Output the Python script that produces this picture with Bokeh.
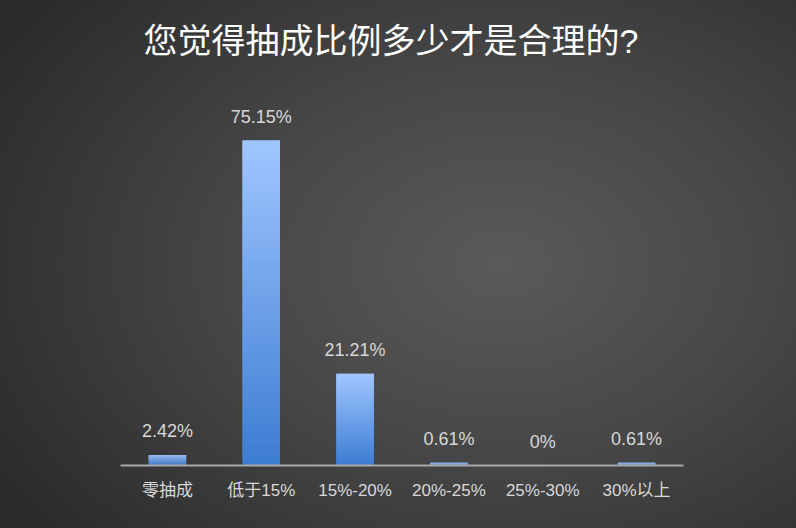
from bokeh.plotting import figure
from bokeh.models import ColumnDataSource, Range1d, FactorRange, LabelSet
from bokeh.core.properties import value
from bokeh.embed import file_html
from bokeh.resources import INLINE
try:
    from bokeh.models import GlobalInlineStyleSheet
except Exception:
    GlobalInlineStyleSheet = None

# ---- data ----
categories = ["零抽成", "低于15%", "15%-20%", "20%-25%", "25%-30%", "30%以上"]
values = [2.42, 75.15, 21.21, 0.61, 0, 0.61]
value_labels = [f"{v:g}%" for v in values]
title_text = "您觉得抽成比例多少才是合理的?"

# ---- style ----
BAR_TOP = (160, 198, 255)
BAR_BOTTOM = (60, 124, 210)
N_SLICES = 60
LABEL_FONT = "Liberation Sans, Noto Sans CJK SC"

p = figure(width=780, height=512, x_range=FactorRange(*categories, range_padding=0.0),
           y_range=Range1d(0, 89.5), output_backend="svg", toolbar_location=None,
           min_border_left=120, min_border_right=97, min_border_top=78, min_border_bottom=47)
p.background_fill_alpha = 0
p.border_fill_alpha = 0
p.outline_line_color = None
p.grid.visible = False

if GlobalInlineStyleSheet is not None:
    p.stylesheets = [GlobalInlineStyleSheet(css="""
html { min-height: 100%; background: radial-gradient(ellipse 75% 80% at 63% 50%, #5a5a5a 0%, #474747 45%, #2a2a2a 100%) fixed; }
body { background: transparent; }
""")]

# gradient bars built from overlapping slices (drawn bottom to top)
xs, bottoms, tops, colors = [], [], [], []
for c, v in zip(categories, values):
    if v <= 0:
        continue
    for k in range(N_SLICES):
        t0 = k / N_SLICES
        t1 = min(1.0, (k + 2) / N_SLICES)
        tm = (k + 0.5) / N_SLICES
        rgb = tuple(int(round(BAR_BOTTOM[j] + (BAR_TOP[j] - BAR_BOTTOM[j]) * tm)) for j in range(3))
        xs.append(c)
        bottoms.append(v * t0)
        tops.append(v * t1)
        colors.append("#%02x%02x%02x" % rgb)
bars = ColumnDataSource(dict(x=xs, bottom=bottoms, top=tops, color=colors))
p.vbar(x="x", bottom="bottom", top="top", width=0.4, source=bars, fill_color="color", line_color=None)

lab = ColumnDataSource(dict(x=categories, y=values, text=value_labels))
p.add_layout(LabelSet(x="x", y="y", text="text", source=lab, text_align="center",
                      text_baseline="bottom", y_offset=14, text_color="#d8d8d8",
                      text_font=value(LABEL_FONT), text_font_size="18px"))

# axes
p.yaxis.visible = False
xa = p.xaxis[0]
xa.axis_line_color = "#a8a8a8"
xa.axis_line_width = 2
xa.major_tick_line_color = None
xa.minor_tick_line_color = None
xa.major_tick_out = 0
xa.major_tick_in = 0
xa.major_label_text_color = "#d8d8d8"
xa.major_label_text_font = LABEL_FONT
xa.major_label_text_font_size = "17px"
xa.major_label_standoff = 15

p.title.text = title_text
p.title.align = "left"
p.title.offset = 23
p.title.text_color = "#ffffff"
p.title.text_font = "Liberation Sans, Noto Sans CJK SC"
p.title.text_font_style = "normal"
p.title.text_font_size = "34px"
p.title.standoff = 38

open("out.html", "w").write(file_html(p, INLINE))
